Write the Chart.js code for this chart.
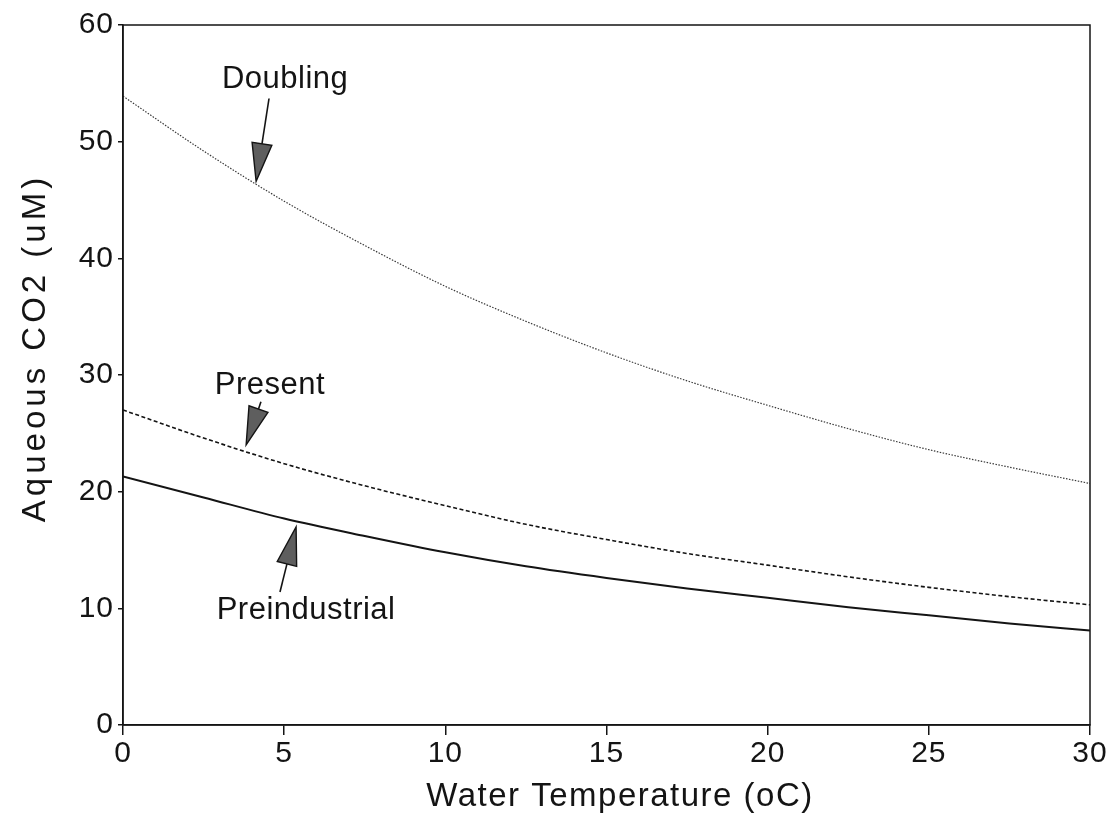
<!DOCTYPE html>
<html>
<head>
<meta charset="utf-8">
<script src="https://cdn.jsdelivr.net/npm/chart.js@4.4.1/dist/chart.umd.min.js"></script>
<style>
  html, body { margin: 0; background: #fff; }
  canvas { display: block; }
</style>
</head>
<body>
<canvas id="chart" width="1113" height="823"></canvas>
<script>
// water temperature (oC) and aqueous CO2 (uM)
const temps         = [0, 2.5, 5, 7.5, 10, 12.5, 15, 17.5, 20, 22.5, 25, 27.5, 30];
const doubling      = [53.9, 49.2, 44.9, 41.1, 37.6, 34.6, 31.9, 29.5, 27.4, 25.4, 23.6, 22.1, 20.7];
const present       = [27.0, 24.6, 22.4, 20.5, 18.8, 17.2, 15.9, 14.7, 13.7, 12.7, 11.8, 11.0, 10.3];
const preindustrial = [21.3, 19.5, 17.7, 16.2, 14.8, 13.6, 12.6, 11.7, 10.9, 10.1, 9.4, 8.7, 8.1];

const xTicks = [0, 5, 10, 15, 20, 25, 30];
const yTicks = [0, 10, 20, 30, 40, 50, 60];

// callouts: label text, label centre, arrow start and tip (data units)
const calloutText = ['Doubling', 'Present', 'Preindustrial'];
const calloutAt   = [[5.03, 55.3], [4.56, 29.1], [5.68, 9.85]];
const arrowFrom   = [[4.53, 53.7], [4.28, 27.7], [4.87, 11.4]];
const arrowTip    = [[4.13, 46.6], [3.82, 24.0], [5.37, 16.97]];

const FONT = "'Liberation Sans', Arial, Helvetica, sans-serif";
const INK = '#141414';

const pts = ys => temps.map((t, i) => ({ x: t, y: ys[i] }));

const frame = {
  id: 'frame',
  beforeDraw(chart) {
    chart.ctx.letterSpacing = '1px';
  },
  afterDraw(chart) {
    const { ctx, chartArea: a, scales: { x, y } } = chart;
    ctx.save();
    ctx.strokeStyle = INK;
    ctx.lineWidth = 1.5;
    ctx.strokeRect(a.left, a.top, a.right - a.left, a.bottom - a.top);

    // callout arrows
    calloutText.forEach((txt, i) => {
      const fx = x.getPixelForValue(arrowFrom[i][0]), fy = y.getPixelForValue(arrowFrom[i][1]);
      const tx = x.getPixelForValue(arrowTip[i][0]),  ty = y.getPixelForValue(arrowTip[i][1]);
      const ang = Math.atan2(ty - fy, tx - fx);
      const headLen = 38, half = 10;
      const bx = tx - headLen * Math.cos(ang), by = ty - headLen * Math.sin(ang);
      const nx = -Math.sin(ang) * half, ny = Math.cos(ang) * half;
      ctx.lineWidth = 1.6;
      ctx.beginPath();
      ctx.moveTo(fx, fy);
      ctx.lineTo(bx, by);
      ctx.stroke();
      ctx.beginPath();
      ctx.moveTo(tx, ty);
      ctx.lineTo(bx + nx, by + ny);
      ctx.lineTo(bx - nx, by - ny);
      ctx.closePath();
      ctx.fillStyle = '#5e5e5e';
      ctx.fill();
      ctx.lineWidth = 1.4;
      ctx.stroke();

      ctx.letterSpacing = '0.5px';
      ctx.fillStyle = INK;
      ctx.font = '31px ' + FONT;
      ctx.textAlign = 'center';
      ctx.textBaseline = 'middle';
      ctx.fillText(txt, x.getPixelForValue(calloutAt[i][0]), y.getPixelForValue(calloutAt[i][1]));
    });

    // axis titles
    ctx.font = '33px ' + FONT;
    ctx.letterSpacing = '1.5px';
    ctx.fillText('Water Temperature (oC)', 620, 797);
    ctx.translate(36, 348);
    ctx.rotate(-Math.PI / 2);
    ctx.letterSpacing = '4px';
    ctx.fillText('Aqueous CO2 (uM)', 0, 0);
    ctx.restore();
  }
};

new Chart(document.getElementById('chart'), {
  type: 'line',
  data: {
    datasets: [
      { label: 'Doubling', data: pts(doubling), borderColor: '#3a3a3a', borderWidth: 1.2, borderDash: [1.5, 1.5] },
      { label: 'Present', data: pts(present), borderColor: INK, borderWidth: 1.6, borderDash: [4, 2.5] },
      { label: 'Preindustrial', data: pts(preindustrial), borderColor: INK, borderWidth: 2 }
    ]
  },
  options: {
    responsive: false,
    animation: false,
    cubicInterpolationMode: 'monotone',
    pointRadius: 0,
    layout: { padding: { left: 0, top: 25, right: 23, bottom: 0 } },
    plugins: { legend: { display: false }, tooltip: { enabled: false } },
    scales: {
      x: {
        type: 'linear', min: 0, max: 30,
        afterBuildTicks: s => { s.ticks = xTicks.map(v => ({ value: v })); },
        afterFit: s => { s.height = 98; },
        grid: { drawOnChartArea: false, drawTicks: true, tickLength: 10, color: INK, lineWidth: 1.5 },
        border: { display: true, color: INK, width: 1.5 },
        ticks: { color: INK, font: { family: FONT, size: 30 }, padding: 1, maxRotation: 0, autoSkip: false }
      },
      y: {
        min: 0, max: 60,
        afterBuildTicks: s => { s.ticks = yTicks.map(v => ({ value: v })); },
        afterFit: s => { s.width = 123; },
        grid: { drawOnChartArea: false, drawTicks: true, tickLength: 5, color: INK, lineWidth: 1.5 },
        border: { display: true, color: INK, width: 1.5 },
        ticks: { color: INK, font: { family: FONT, size: 30 }, padding: 4 }
      }
    }
  },
  plugins: [frame]
});
</script>
</body>
</html>
